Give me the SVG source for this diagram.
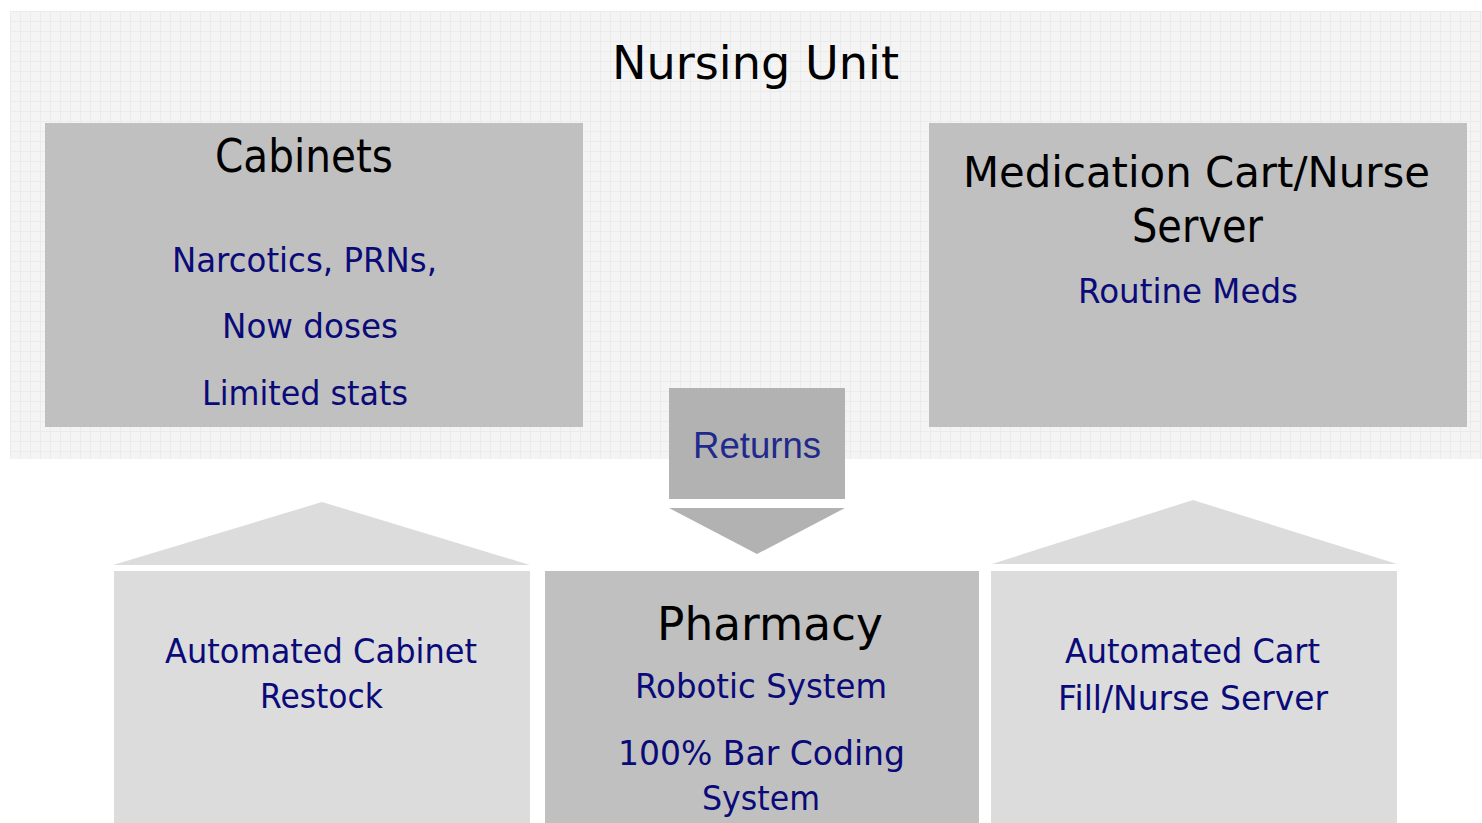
<svg xmlns="http://www.w3.org/2000/svg" width="1482" height="823" viewBox="0 0 1482 823">
<style>
.t{font-family:"DejaVu Sans","Liberation Sans",sans-serif;text-anchor:middle}
.h{fill:#000;font-size:47px}
.b{fill:#0a0a78;font-size:34px}
.r{font-family:"Liberation Sans",Arial,sans-serif;text-anchor:middle;fill:#1f2a8c;font-size:36px}
.dark{fill:#c0c0c0}
.light{fill:#dcdcdc}
.ret{fill:#b2b2b2}
</style>
<defs>
<pattern id="grid" x="10" y="11" width="10" height="10" patternUnits="userSpaceOnUse">
<rect width="10" height="10" fill="#f4f4f4"/>
<path d="M0 0.5H10M0.5 0V10" stroke="#ebebeb" stroke-width="1" fill="none"/>
</pattern>
</defs>
<rect width="1482" height="823" fill="#fff"/>
<g id="nursing-unit">
<rect x="10" y="11" width="1472" height="448" fill="url(#grid)"/>
<text class="t h" x="755.5" y="79" textLength="287" lengthAdjust="spacingAndGlyphs">Nursing Unit</text>
</g>
<g id="cabinets">
<rect class="dark" x="45" y="123" width="538" height="304"/>
<text class="t h" x="304" y="172" textLength="178" lengthAdjust="spacingAndGlyphs">Cabinets</text>
<text class="t b" x="304.5" y="272" textLength="265" lengthAdjust="spacingAndGlyphs">Narcotics, PRNs,</text>
<text class="t b" x="310" y="338" textLength="176" lengthAdjust="spacingAndGlyphs">Now doses</text>
<text class="t b" x="305" y="405" textLength="206" lengthAdjust="spacingAndGlyphs">Limited stats</text>
</g>
<g id="medication-cart">
<rect class="dark" x="929" y="123" width="538" height="304"/>
<text class="t h" x="1196.5" y="187" style="font-size:43px" textLength="467" lengthAdjust="spacingAndGlyphs">Medication Cart/Nurse</text>
<text class="t h" x="1197.5" y="242" textLength="131" lengthAdjust="spacingAndGlyphs">Server</text>
<text class="t b" x="1188" y="303" textLength="220" lengthAdjust="spacingAndGlyphs">Routine Meds</text>
</g>
<g id="connectors">
<g id="returns">
<rect class="ret" x="669" y="388" width="176" height="111"/>
<text class="r" x="757" y="458" textLength="128" lengthAdjust="spacingAndGlyphs">Returns</text>
<polygon class="ret" points="669,508 845,508 757,554"/>
</g>
<polygon class="light" points="113,565 322,502 530,565"/>
<polygon class="light" points="992,564 1193,500 1397,564"/>
</g>
<g id="automated-cabinet-restock">
<rect class="light" x="114" y="571" width="416" height="252"/>
<text class="t b" x="321" y="663" textLength="312" lengthAdjust="spacingAndGlyphs">Automated Cabinet</text>
<text class="t b" x="321.5" y="708" textLength="123" lengthAdjust="spacingAndGlyphs">Restock</text>
</g>
<g id="pharmacy">
<rect class="dark" x="545" y="571" width="434" height="252"/>
<text class="t h" x="770" y="640" textLength="226" lengthAdjust="spacingAndGlyphs">Pharmacy</text>
<text class="t b" x="761" y="698" textLength="252" lengthAdjust="spacingAndGlyphs">Robotic System</text>
<text class="t b" x="761.5" y="765" textLength="287" lengthAdjust="spacingAndGlyphs">100% Bar Coding</text>
<text class="t b" x="761" y="810" textLength="118" lengthAdjust="spacingAndGlyphs">System</text>
</g>
<g id="automated-cart-fill">
<rect class="light" x="991" y="571" width="406" height="252"/>
<text class="t b" x="1192.5" y="663" textLength="255" lengthAdjust="spacingAndGlyphs">Automated Cart</text>
<text class="t b" x="1193" y="710" textLength="270" lengthAdjust="spacingAndGlyphs">Fill/Nurse Server</text>
</g>
</svg>
